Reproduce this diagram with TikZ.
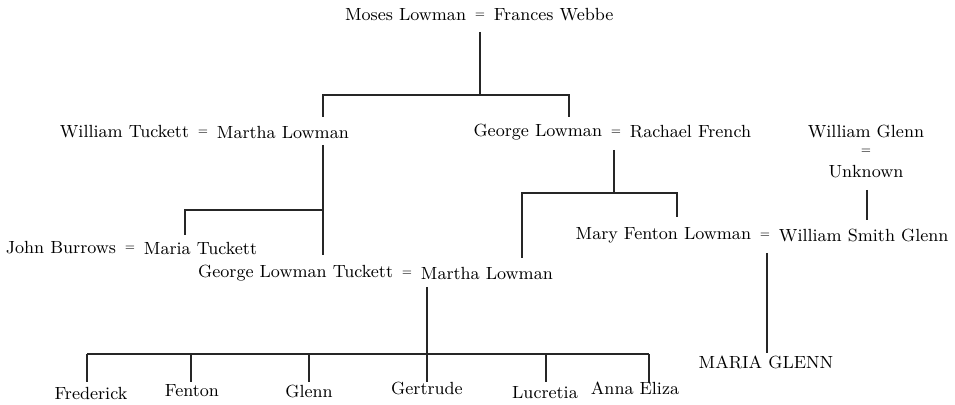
\documentclass[tikz,border=0pt]{standalone}
\usetikzlibrary{positioning}

\begin{document}
\begin{tikzpicture}[x=0.5pt,y=-0.5pt,
    person/.style={inner sep=0pt, font=\fontsize{8.8}{10.5}\selectfont},
    wed/.style={inner sep=0pt, font=\fontsize{5.5}{6.5}\selectfont},
    node distance=4pt,
    line/.style={draw=black!85, line width=0.7pt}]
  \useasboundingbox (0,0) rectangle (955,405);

  % couples
  \node[wed] (eqML) at (480,15) {=};
  \node[person, left=of eqML] (moses) {Moses Lowman};
  \node[person, right=of eqML] (frances) {Frances Webbe};

  \node[wed] (eqWT) at (203,132) {=};
  \node[person, left=of eqWT] (wtuckett) {William Tuckett};
  \node[person, right=of eqWT] (martha) {Martha Lowman};

  \node[wed] (eqGL) at (616,132) {=};
  \node[person, left=of eqGL] (george) {George Lowman};
  \node[person, right=of eqGL] (rachael) {Rachael French};

  \node[person] (wglenn) at (866,131) {William Glenn};
  \node[wed] (eqWG) at (866,151) {=};
  \node[person] (unknown) at (866,172) {Unknown};

  \node[wed] (eqJB) at (130,248) {=};
  \node[person, left=of eqJB] (burrows) {John Burrows};
  \node[person, right=of eqJB] (maria) {Maria Tuckett};

  \node[wed] (eqGT) at (407,273) {=};
  \node[person, left=of eqGT] (gltuckett) {George Lowman Tuckett};
  \node[person, right=of eqGT] (martha2) {Martha Lowman};

  \node[wed] (eqMF) at (765,235) {=};
  \node[person, left=of eqMF] (mary) {Mary Fenton Lowman};
  \node[person, right=of eqMF] (wsglenn) {William Smith Glenn};

  \node[person] (mglenn) at (766,362) {MARIA GLENN};

  % children
  \node[person] (frederick) at (91,393) {Frederick};
  \node[person] (fenton) at (192,391) {Fenton};
  \node[person] (glenn) at (309,391) {Glenn};
  \node[person] (gertrude) at (427,388) {Gertrude};
  \node[person] (lucretia) at (545,393) {Lucretia};
  \node[person] (anna) at (635,388) {Anna Eliza};

  % junction points
  \coordinate (mlDown) at (480,32);
  \coordinate (mlBar) at (480,95);
  \coordinate (wtUp) at (323,117);
  \coordinate (glUp) at (569,117);
  \coordinate (wtDown) at (323,145);
  \coordinate (wtBar) at (323,210);
  \coordinate (gtUp) at (323,255);
  \coordinate (jbUp) at (185,235);
  \coordinate (rfDown) at (614,150);
  \coordinate (rfBar) at (614,193);
  \coordinate (mtUp) at (522,258);
  \coordinate (mfUp) at (677,217);
  \coordinate (ukDown) at (867,190);
  \coordinate (wsUp) at (867,220);
  \coordinate (mfDown) at (767,253);
  \coordinate (mgUp) at (767,353);
  \coordinate (gtDown) at (427,287);
  \coordinate (gtBar) at (427,354);

  % connectors
  \draw[line] (mlDown) -- (mlBar);
  \draw[line] (wtUp) |- (mlBar) -| (glUp);
  \draw[line] (wtDown) -- (gtUp);
  \draw[line] (wtBar) -| (jbUp);
  \draw[line] (rfDown) -- (rfBar);
  \draw[line] (mtUp) |- (rfBar) -| (mfUp);
  \draw[line] (ukDown) -- (wsUp);
  \draw[line] (mfDown) -- (mgUp);
  \draw[line] (gtDown) -- (gtBar);
  \foreach \kid/\kx in {frederick/87, fenton/191, glenn/309, gertrude/427, lucretia/546, anna/649}
    \draw[line] (\kx,354) coordinate (\kid Bar) -- (\kx,382) coordinate (\kid Up);
  \draw[line] (frederickBar) -- (annaBar);
\end{tikzpicture}
\end{document}
